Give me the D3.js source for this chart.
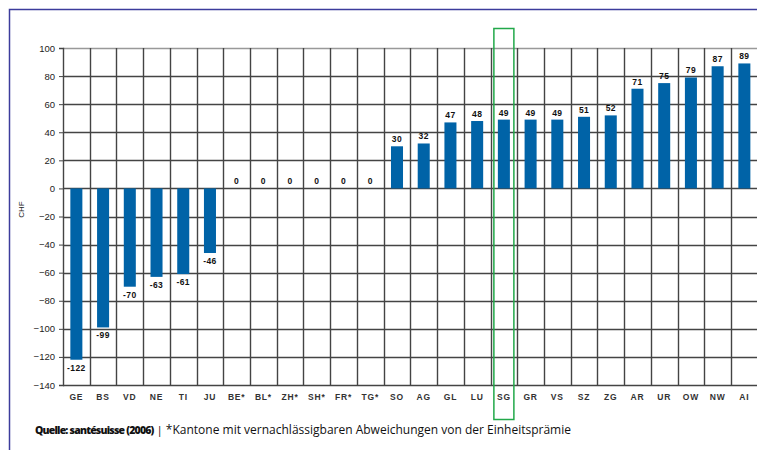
<!DOCTYPE html>
<html>
<head>
<meta charset="utf-8">
<script src="https://cdn.jsdelivr.net/npm/d3@7"></script>
<style>
  body { margin: 0; background: #fff; }
  svg { display: block; font-family: "Liberation Sans", Arial, sans-serif; }
</style>
</head>
<body>
<svg id="chart" width="757" height="450"></svg>
<script>
const cantons = ["GE", "BS", "VD", "NE", "TI", "JU", "BE*", "BL*", "ZH*", "SH*", "FR*", "TG*",
  "SO", "AG", "GL", "LU", "SG", "GR", "VS", "SZ", "ZG", "AR", "UR", "OW", "NW", "AI"];
const values = [-122, -99, -70, -63, -61, -46, 0, 0, 0, 0, 0, 0,
  30, 32, 47, 48, 49, 49, 49, 51, 52, 71, 75, 79, 87, 89];
const yTicks = [100, 80, 60, 40, 20, 0, -20, -40, -60, -80, -100, -120, -140];
const highlight = "SG";

const BAR_COLOR = "#0063a7";
const GRID_COLOR = "#444";

const svg = d3.select("#chart");
const margin = { top: 48, left: 63, bottom: 385 };

const x = d3.scaleBand()
  .domain(cantons)
  .range([margin.left, margin.left + 26.72 * cantons.length])
  .paddingInner(0.55)
  .paddingOuter(0.275);

const y = d3.scaleLinear()
  .domain([-140, 100])
  .range([margin.bottom, margin.top]);

// outer frame (blue line top + left)
svg.append("path")
  .attr("d", "M9.5,450 V9.5 H757")
  .attr("fill", "none")
  .attr("stroke", "#3c3c9c")
  .attr("stroke-width", 1.5);

const step = x.step();
const left = margin.left;
const right = margin.left + step * cantons.length;

// horizontal gridlines
svg.append("g")
  .selectAll("line")
  .data(yTicks)
  .join("line")
  .attr("x1", left)
  .attr("x2", right)
  .attr("y1", (d) => Math.round(y(d)) + 0.5)
  .attr("y2", (d) => Math.round(y(d)) + 0.5)
  .attr("stroke", (d) => (d === 100 ? "#999" : GRID_COLOR))
  .attr("stroke-width", 1.4);

// vertical gridlines between categories
svg.append("g")
  .selectAll("line")
  .data(d3.range(1, cantons.length + 1))
  .join("line")
  .attr("x1", (i) => Math.round(left + i * step) + 0.5)
  .attr("x2", (i) => Math.round(left + i * step) + 0.5)
  .attr("y1", y(100))
  .attr("y2", y(-140))
  .attr("stroke", GRID_COLOR)
  .attr("stroke-width", 1.4);

// y axis
const yAxis = svg.append("g")
  .attr("transform", `translate(${left},0)`)
  .call(d3.axisLeft(y).tickValues(yTicks).tickSize(4).tickPadding(4));
yAxis.select(".domain").attr("stroke", GRID_COLOR).attr("stroke-width", 1.4);
yAxis.selectAll(".tick line").attr("stroke", GRID_COLOR);
yAxis.selectAll(".tick text")
  .attr("font-size", 9.5)
  .attr("fill", "#222")
  .attr("font-family", "'Liberation Sans', Arial, sans-serif");

svg.append("text")
  .attr("transform", `translate(24,${y(-15)}) rotate(-90)`)
  .attr("text-anchor", "middle")
  .attr("font-size", 8)
  .attr("fill", "#222")
  .text("CHF");

// bars
svg.append("g")
  .selectAll("rect")
  .data(values)
  .join("rect")
  .attr("x", (d, i) => x(cantons[i]))
  .attr("width", x.bandwidth())
  .attr("y", (d) => y(Math.max(0, d)))
  .attr("height", (d) => Math.abs(y(d) - y(0)))
  .attr("fill", BAR_COLOR);

// value labels
svg.append("g")
  .selectAll("text")
  .data(values)
  .join("text")
  .attr("x", (d, i) => x(cantons[i]) + x.bandwidth() / 2)
  .attr("y", (d) => (d < 0 ? y(d) + 11 : y(d) - 4))
  .attr("text-anchor", "middle")
  .attr("font-size", 8.5)
  .attr("font-weight", "bold")
  .attr("letter-spacing", 0.4)
  .attr("fill", "#111")
  .text((d) => d);

// category labels
svg.append("g")
  .selectAll("text")
  .data(cantons)
  .join("text")
  .attr("x", (d) => x(d) + x.bandwidth() / 2)
  .attr("y", 400)
  .attr("text-anchor", "middle")
  .attr("font-size", 8.5)
  .attr("font-weight", "bold")
  .attr("letter-spacing", 0.8)
  .attr("fill", "#333")
  .text((d) => d);

// highlight box
svg.append("rect")
  .attr("x", x(highlight) + x.bandwidth() / 2 - 10)
  .attr("y", 28.5)
  .attr("width", 20)
  .attr("height", 391)
  .attr("fill", "none")
  .attr("stroke", "#22a84a")
  .attr("stroke-width", 1.5);

// footer
const foot = svg.append("text")
  .attr("x", 35)
  .attr("y", 434)
  .attr("fill", "#111")
  .attr("font-family", "'Open Sans', 'DejaVu Sans', sans-serif");
foot.append("tspan").attr("font-size", 10.5).attr("font-weight", "800").attr("letter-spacing", -0.8).text("Quelle: santésuisse (2006)");
foot.append("tspan").attr("font-size", 11.5).text(" | ");
foot.append("tspan").attr("font-size", 12).text("*Kantone mit vernachlässigbaren Abweichungen von der Einheitsprämie");
</script>
</body>
</html>
